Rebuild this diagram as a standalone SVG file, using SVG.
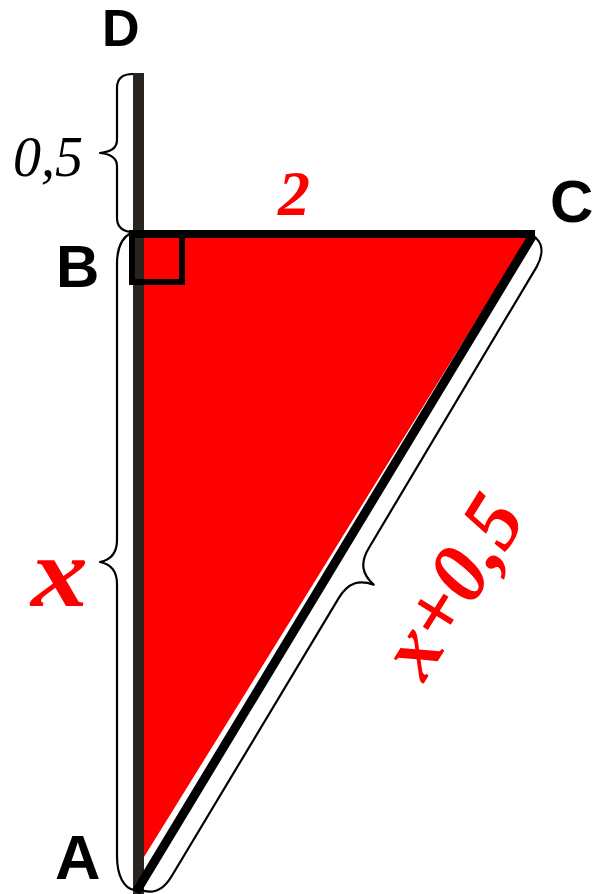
<svg xmlns="http://www.w3.org/2000/svg" width="596" height="894" viewBox="0 0 596 894">
<style>
.lbl{font-family:"Liberation Sans",Arial,sans-serif;font-weight:bold;fill:#000}
.num{font-family:"Liberation Serif","Times New Roman",serif;font-style:italic;font-weight:bold;fill:#ff0000}
.brace{fill:none;stroke:#000;stroke-width:2.2;stroke-linejoin:round}
</style>
<rect width="596" height="894" fill="#fff"/>
<g id="line-DA">
<rect x="133" y="73" width="11" height="821" fill="#29241f"/>
</g>
<g id="triangle">
<polygon points="144,234 530,234 144,857" fill="#ff0000"/>
</g>
<g id="connectors">
<line x1="129" y1="234" x2="535" y2="234" stroke="#000" stroke-width="8"/>
<line x1="533" y1="235" x2="136" y2="892" stroke="#000" stroke-width="9"/>
<rect x="132" y="233" width="50" height="49" fill="none" stroke="#000" stroke-width="6"/>
<path class="brace" d="M133,74 C123,74 117,78 117,88 L117,140 C117,148 110,152 100,153 C110,154 117,158 117,166 L117,218 C117,226 122,231 131,232"/>
<path class="brace" d="M131,233 C121,238 117,248 117,264 L117,540 C117,553 110,560 100,562 C110,564 117,571 117,584 L117,856 C117,876 124,888 134,890"/>
<path class="brace" transform="matrix(-0.515,0.857,0.857,0.515,533,236)" d="M0,0 C0,10 7,18 24,19 L352,20 C370,20 378,28 381,43 C384,28 392,20 410,20 L735,20 C753,20 762,12 763,-3"/>
</g>
<g id="D"><text class="lbl" x="102" y="46" font-size="52">D</text></g>
<g id="B"><text class="lbl" x="56" y="287" font-size="60">B</text></g>
<g id="C"><text class="lbl" x="550" y="222" font-size="60">C</text></g>
<g id="A"><text class="lbl" x="55" y="879" font-size="63">A</text></g>
<g id="label-BC"><text class="num" x="278" y="215" font-size="64">2</text></g>
<g id="label-DB"><text x="13" y="176" font-size="56" font-family="'Liberation Serif','Times New Roman',serif" font-style="italic" fill="#000">0,5</text></g>
<g id="label-AB"><text class="num" x="31" y="606" font-size="100" textLength="57" lengthAdjust="spacingAndGlyphs">x</text></g>
<g id="label-AC"><text class="num" x="424" y="683" font-size="84" transform="rotate(-58 424 683)">x+0,5</text></g>
</svg>
